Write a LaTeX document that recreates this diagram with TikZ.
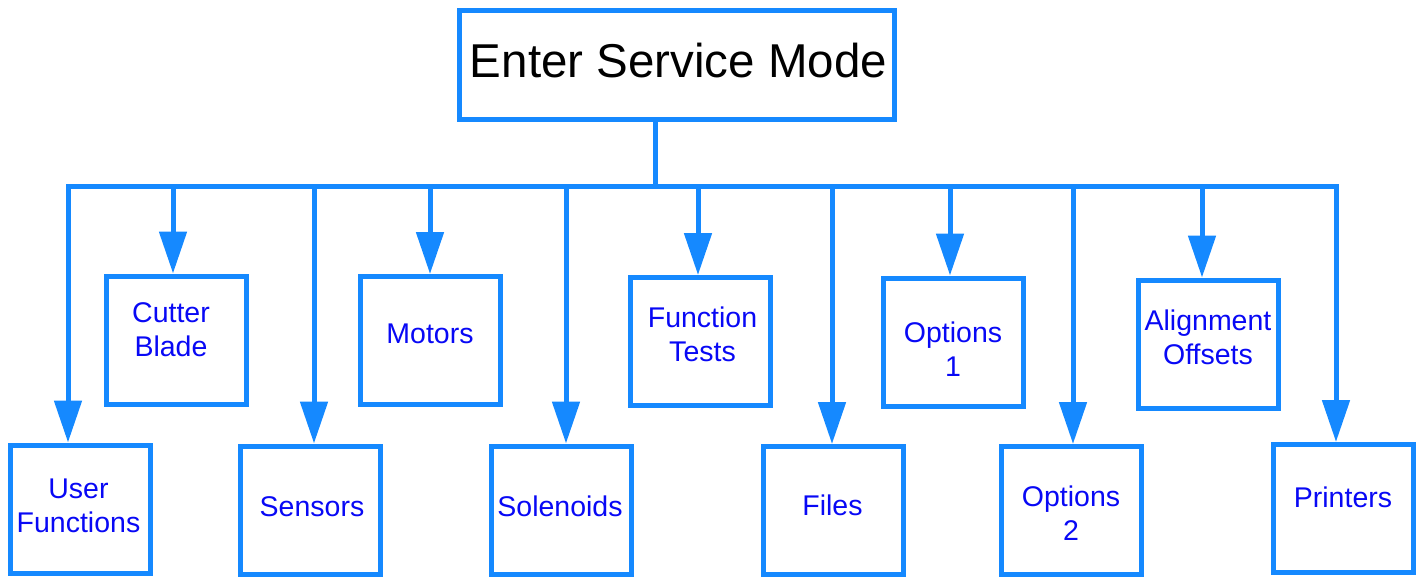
\documentclass[tikz,border=0pt]{standalone}
\usepackage{fontspec}
\setmainfont{Liberation Sans}
\usetikzlibrary{arrows.meta}
\definecolor{lineblue}{RGB}{21,137,255}
\definecolor{txtblue}{RGB}{8,8,245}
\begin{document}
\begin{tikzpicture}[x=1pt,y=-1pt,
  boxstyle/.style={draw=lineblue,line width=5pt,rectangle,inner sep=0pt,minimum width=140pt,minimum height=128pt},
  lbl/.style={inner sep=0pt,align=center,text=txtblue,font={\fontsize{28.5}{34}\selectfont}},
  conn/.style={draw=lineblue,line width=5pt},
  arr/.style={conn,-{Triangle[width=27pt,length=42pt]}}]
\useasboundingbox (0,0) rectangle (1421,576);
% title
\node[boxstyle,minimum width=435pt,minimum height=109pt] (title) at (677,65) {};
\node[inner sep=0pt,font={\fontsize{47.5}{56}\selectfont}] (titleT) at (678.5,60.5) {Enter Service Mode};
% boxes
\node[boxstyle] (user) at (80,509) {};
\node[boxstyle] (cut) at (176,340) {};
\node[boxstyle] (sens) at (310.5,510) {};
\node[boxstyle] (mot) at (430.5,340.5) {};
\node[boxstyle] (sol) at (561,510) {};
\node[boxstyle] (ftest) at (700.5,341.5) {};
\node[boxstyle] (files) at (833,510.5) {};
\node[boxstyle] (opt1) at (953,342) {};
\node[boxstyle] (opt2) at (1071,510.5) {};
\node[boxstyle] (align) at (1208,344) {};
\node[boxstyle] (print) at (1343,508.5) {};
% labels
\node[lbl] (userT) at (78.5,505.5) {User\\Functions};
\node[lbl] (cutT) at (171,330) {Cutter\\Blade};
\node[lbl] (sensT) at (312,506.5) {Sensors};
\node[lbl] (motT) at (430,333.5) {Motors};
\node[lbl] (solT) at (560,506.5) {Solenoids};
\node[lbl] (ftestT) at (702.5,334.5) {Function\\Tests};
\node[lbl] (filesT) at (832.5,505.5) {Files};
\node[lbl] (opt1T) at (953,349.5) {Options\\1};
\node[lbl] (opt2T) at (1071,513) {Options\\2};
\node[lbl] (alignT) at (1208,337.5) {Alignment\\Offsets};
\node[lbl] (printT) at (1343,497.5) {Printers};
% bus coordinates
\coordinate (trunk) at (655,186);
\coordinate (b1) at (68,186);
\coordinate (b2) at (173,186);
\coordinate (b3) at (314,186);
\coordinate (b4) at (430,186);
\coordinate (b5) at (566,186);
\coordinate (b6) at (698,186);
\coordinate (b7) at (832,186);
\coordinate (b8) at (950,186);
\coordinate (b9) at (1073,186);
\coordinate (b10) at (1202,186);
\coordinate (b11) at (1336,186);
\draw[conn] (trunk |- title.south) -- (trunk);
\draw[conn,line cap=rect] (b1) -- (b11);
\draw[arr] (b1) -- (b1 |- user.north);
\draw[arr] (b2) -- (b2 |- cut.north);
\draw[arr] (b3) -- (b3 |- sens.north);
\draw[arr] (b4) -- (b4 |- mot.north);
\draw[arr] (b5) -- (b5 |- sol.north);
\draw[arr] (b6) -- (b6 |- ftest.north);
\draw[arr] (b7) -- (b7 |- files.north);
\draw[arr] (b8) -- (b8 |- opt1.north);
\draw[arr] (b9) -- (b9 |- opt2.north);
\draw[arr] (b10) -- (b10 |- align.north);
\draw[arr] (b11) -- (b11 |- print.north);
\end{tikzpicture}
\end{document}
